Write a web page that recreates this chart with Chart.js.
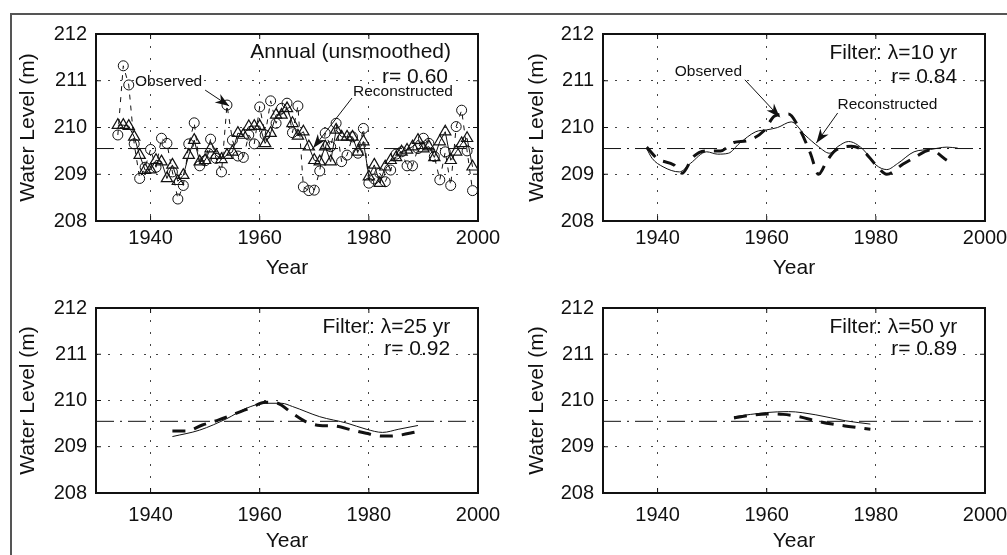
<!DOCTYPE html>
<html>
<head>
<meta charset="utf-8">
<script src="https://cdn.jsdelivr.net/npm/chart.js@4.4.0/dist/chart.umd.min.js"></script>
<style>
  html, body { margin: 0; padding: 0; background: #fff; overflow: hidden; }
  #page { position: relative; width: 1007px; height: 555px; overflow: hidden; }
  #frame { position: absolute; left: 10px; top: 13px; width: 1200px; height: 800px;
           border: 2px solid #555; box-sizing: border-box; }
  .panel { position: absolute; }
</style>
</head>
<body>
<div id="page">
  <div id="frame"></div>
  <canvas id="annual" class="panel" width="500" height="282" style="left:0;top:0"></canvas>
  <canvas id="f10" class="panel" width="507" height="282" style="left:500px;top:0"></canvas>
  <canvas id="f25" class="panel" width="500" height="280" style="left:0;top:275px"></canvas>
  <canvas id="f50" class="panel" width="507" height="280" style="left:500px;top:275px"></canvas>
</div>
<script>
const fontFamily = '"Liberation Sans", Arial, sans-serif';
Chart.defaults.font.family = fontFamily;
Chart.defaults.color = '#111';

// axis ticks
const yearTicks = [1940, 1960, 1980, 2000];
const levelTicks = [208, 209, 210, 211, 212];
const meanLevel = 209.55;

// annual (unsmoothed) series
const annualYears = [1934, 1935, 1936, 1937, 1938, 1939,
  1940, 1941, 1942, 1943, 1944, 1945, 1946, 1947, 1948, 1949,
  1950, 1951, 1952, 1953, 1954, 1955, 1956, 1957, 1958, 1959,
  1960, 1961, 1962, 1963, 1964, 1965, 1966, 1967, 1968, 1969,
  1970, 1971, 1972, 1973, 1974, 1975, 1976, 1977, 1978, 1979,
  1980, 1981, 1982, 1983, 1984, 1985, 1986, 1987, 1988, 1989,
  1990, 1991, 1992, 1993, 1994, 1995, 1996, 1997, 1998, 1999];
const annualObserved = [209.84, 211.32, 210.91, 209.65, 208.91, 209.15,
  209.53, 209.15, 209.77, 209.66, 209.05, 208.47, 208.76, 209.65, 210.10, 209.18,
  209.29, 209.75, 209.34, 209.05, 210.48, 209.73, 209.39, 209.36, 209.84, 209.65,
  210.44, 209.84, 210.57, 210.09, 210.41, 210.52, 209.89, 210.46, 208.73, 208.65,
  208.66, 209.07, 209.88, 209.59, 210.09, 209.27, 209.41, 209.80, 209.45, 209.98,
  208.81, 208.90, 209.02, 208.84, 209.09, 209.43, 209.48, 209.18, 209.18, 209.55,
  209.77, 209.66, 209.38, 208.88, 209.48, 208.76, 210.02, 210.37, 209.50, 208.65];
const annualRecon = [210.05, 210.05, 210.03, 209.80, 209.41, 209.09,
  209.10, 209.30, 209.27, 208.91, 209.20, 208.85, 208.98, 209.41, 209.73, 209.27,
  209.30, 209.55, 209.41, 209.32, 209.41, 209.48, 209.88, 209.84, 210.02, 210.03,
  210.03, 209.66, 209.88, 210.27, 210.27, 210.41, 210.09, 209.82, 209.91, 209.59,
  209.30, 209.27, 209.59, 209.27, 209.95, 209.80, 209.80, 209.80, 209.48, 209.70,
  208.95, 209.20, 208.81, 209.16, 209.30, 209.36, 209.48, 209.52, 209.59, 209.73,
  209.55, 209.59, 209.36, 209.70, 209.91, 209.30, 209.48, 209.66, 209.77, 209.16];

// lambda = 10 yr filter
const f10ReconYears = [1938, 1939, 1941, 1944, 1946, 1949, 1951, 1953, 1955, 1958, 1960, 1962,
  1964.5, 1967, 1969.5, 1971.5, 1973, 1975, 1977.5, 1980, 1982, 1984, 1987, 1990, 1993, 1995];
const f10Recon = [209.55, 209.34, 209.16, 209.05, 209.23, 209.48, 209.43, 209.45, 209.66, 209.91, 209.95, 210.00,
  210.12, 209.84, 209.59, 209.45, 209.59, 209.70, 209.55, 209.20, 209.10, 209.23, 209.48, 209.53, 209.58, 209.56];
const f10ObsYears = [1938, 1940, 1943, 1944.5, 1946.5, 1949, 1951.5, 1954, 1956.5, 1959.5, 1961.5, 1964,
  1966, 1968, 1969.5, 1971, 1972.5, 1975.5, 1977.5, 1980, 1982, 1985, 1987, 1990, 1993];
const f10Obs = [209.58, 209.33, 209.20, 209.02, 209.37, 209.50, 209.50, 209.68, 209.72, 209.93, 210.25, 210.29,
  209.97, 209.45, 209.00, 209.28, 209.50, 209.60, 209.52, 209.20, 209.00, 209.22, 209.35, 209.52, 209.30];

// lambda = 25 yr filter
const f25ReconYears = [1944, 1949, 1954, 1957.5, 1961, 1964, 1966, 1971, 1976, 1979.5, 1982.5, 1985.5, 1989];
const f25Recon = [209.22, 209.36, 209.61, 209.83, 209.94, 209.94, 209.87, 209.65, 209.51, 209.38, 209.31, 209.38, 209.46];
const f25ObsYears = [1944, 1946.5, 1949.5, 1952.5, 1956.5, 1958.5, 1961, 1963, 1966, 1968.5, 1971, 1973.5,
  1977, 1979.5, 1982.5, 1985, 1989];
const f25Obs = [209.34, 209.34, 209.47, 209.58, 209.76, 209.85, 209.96, 209.95, 209.72, 209.54, 209.46, 209.45,
  209.36, 209.29, 209.23, 209.24, 209.33];

// lambda = 50 yr filter
const f50ReconYears = [1954, 1960, 1964, 1969, 1974.5, 1979];
const f50Recon = [209.65, 209.74, 209.76, 209.69, 209.56, 209.49];
const f50ObsYears = [1954, 1957, 1960, 1963, 1966, 1969, 1972, 1975, 1979];
const f50Obs = [209.62, 209.68, 209.71, 209.70, 209.65, 209.56, 209.49, 209.44, 209.38];

const zip = (xs, ys) => xs.map((x, i) => ({ x: x, y: ys[i] }));

function meanLine() {
    return {
        data: [{ x: 1930, y: meanLevel }, { x: 2000, y: meanLevel }],
        borderColor: '#111',
        borderWidth: 1,
        borderDash: [18, 6, 2, 6],
        pointRadius: 0
    };
}

function smoothObs(xs, ys) {
    return {
        data: zip(xs, ys),
        borderColor: '#111',
        borderWidth: 3,
        borderDash: [13, 9],
        pointRadius: 0,
        cubicInterpolationMode: 'monotone'
    };
}

function smoothRecon(xs, ys) {
    return {
        data: zip(xs, ys),
        borderColor: '#111',
        borderWidth: 1,
        pointRadius: 0,
        cubicInterpolationMode: 'monotone'
    };
}

// axes box with inward tick marks
const boxPlugin = {
    id: 'box',
    afterDatasetsDraw(chart) {
        const { ctx, chartArea: a, scales: { x, y } } = chart;
        ctx.save();
        ctx.strokeStyle = '#111';
        ctx.lineWidth = 2;
        ctx.strokeRect(a.left, a.top, a.right - a.left, a.bottom - a.top);
        ctx.lineWidth = 1;
        ctx.beginPath();
        x.ticks.forEach(t => {
            const px = x.getPixelForValue(t.value);
            ctx.moveTo(px, a.top); ctx.lineTo(px, a.top + 5);
            ctx.moveTo(px, a.bottom); ctx.lineTo(px, a.bottom - 5);
        });
        y.ticks.forEach(t => {
            const py = y.getPixelForValue(t.value);
            ctx.moveTo(a.left, py); ctx.lineTo(a.left + 5, py);
            ctx.moveTo(a.right, py); ctx.lineTo(a.right - 5, py);
        });
        ctx.stroke();
        ctx.restore();
    }
};

function notesPlugin(texts, arrows) {
    return {
        id: 'notes',
        afterDraw(chart) {
            const { ctx, scales: { x, y } } = chart;
            ctx.save();
            ctx.fillStyle = '#111';
            ctx.strokeStyle = '#111';
            ctx.textBaseline = 'middle';
            texts.forEach(t => {
                ctx.font = t.size + 'px ' + fontFamily;
                ctx.textAlign = t.align;
                ctx.fillText(t.text, x.getPixelForValue(t.x), y.getPixelForValue(t.y));
            });
            arrows.forEach(ar => {
                const x0 = x.getPixelForValue(ar.from[0]), y0 = y.getPixelForValue(ar.from[1]);
                const x1 = x.getPixelForValue(ar.to[0]), y1 = y.getPixelForValue(ar.to[1]);
                const ang = Math.atan2(y1 - y0, x1 - x0);
                ctx.lineWidth = 1;
                ctx.beginPath();
                ctx.moveTo(x0, y0);
                ctx.lineTo(x1, y1);
                ctx.stroke();
                const L = 14, W = 5;
                ctx.beginPath();
                ctx.moveTo(x1, y1);
                ctx.lineTo(x1 - L * Math.cos(ang) + W * Math.sin(ang), y1 - L * Math.sin(ang) - W * Math.cos(ang));
                ctx.lineTo(x1 - 0.7 * L * Math.cos(ang), y1 - 0.7 * L * Math.sin(ang));
                ctx.lineTo(x1 - L * Math.cos(ang) - W * Math.sin(ang), y1 - L * Math.sin(ang) + W * Math.cos(ang));
                ctx.closePath();
                ctx.fill();
            });
            ctx.restore();
        }
    };
}

function panel(id, p) {
    new Chart(document.getElementById(id), {
        type: 'line',
        data: { datasets: p.datasets },
        options: {
            responsive: false,
            animation: false,
            layout: { padding: { top: p.top, right: 22, left: 0, bottom: 0 } },
            plugins: { legend: { display: false }, tooltip: { enabled: false } },
            scales: {
                x: {
                    type: 'linear', min: 1930, max: 2000,
                    afterBuildTicks: s => { s.ticks = yearTicks.map(v => ({ value: v })); },
                    afterFit: s => { s.height = p.xHeight; s.paddingLeft = 0; s.paddingRight = 0; },
                    grid: { color: '#444', lineWidth: 1, drawTicks: false },
                    border: { display: false, dash: [2, 10] },
                    ticks: { color: '#111', font: { size: 20 }, padding: p.xPad, maxRotation: 0,
                             autoSkip: false, callback: v => String(v) },
                    title: { display: true, text: 'Year', color: '#111',
                             font: { size: 21, lineHeight: 1 }, padding: { top: 0, bottom: p.xTitlePad } }
                },
                y: {
                    type: 'linear', min: 208, max: 212,
                    afterBuildTicks: s => { s.ticks = levelTicks.map(v => ({ value: v })); },
                    afterFit: s => { s.width = p.yWidth; s.paddingTop = 0; s.paddingBottom = 0; },
                    grid: { color: '#444', lineWidth: 1, drawTicks: false },
                    border: { display: false, dash: [2, 10] },
                    ticks: { color: '#111', font: { size: 20 }, padding: 9, callback: v => String(v) },
                    title: { display: true, text: 'Water Level (m)', color: '#111',
                             font: { size: 21, lineHeight: 1 }, padding: { top: p.yTitlePad, bottom: 0 } }
                }
            }
        },
        plugins: [boxPlugin, notesPlugin(p.texts, p.arrows)]
    });
}

panel('annual', {
    top: 34, xHeight: 61, xPad: 5.5, xTitlePad: 3.5, yWidth: 96, yTitlePad: 18,
    datasets: [
        {
            data: zip(annualYears, annualObserved),
            borderColor: '#111', borderWidth: 1, borderDash: [5, 6],
            pointStyle: 'circle', pointRadius: 5, pointBorderWidth: 1,
            pointBorderColor: '#111', pointBackgroundColor: 'rgba(0,0,0,0)'
        },
        {
            data: zip(annualYears, annualRecon),
            borderColor: '#111', borderWidth: 1,
            pointStyle: 'triangle', pointRadius: 6.5, pointBorderWidth: 1.2,
            pointBorderColor: '#111', pointBackgroundColor: 'rgba(0,0,0,0)'
        },
        meanLine()
    ],
    texts: [
        { text: 'Annual (unsmoothed)', x: 1995.05, y: 211.61, align: 'right', size: 21 },
        { text: 'r= 0.60', x: 1994.5, y: 211.08, align: 'right', size: 21 },
        { text: 'Observed', x: 1937.15, y: 210.97, align: 'left', size: 15.5 },
        { text: 'Reconstructed', x: 1977.1, y: 210.76, align: 'left', size: 15.5 }
    ],
    arrows: [
        { from: [1950.0, 210.8], to: [1954.4, 210.46] },
        { from: [1976.9, 210.63], to: [1969.8, 209.56] }
    ]
});

panel('f10', {
    top: 34, xHeight: 61, xPad: 5.5, xTitlePad: 3.5, yWidth: 103, yTitlePad: 26.5,
    datasets: [smoothObs(f10ObsYears, f10Obs), smoothRecon(f10ReconYears, f10Recon), meanLine()],
    texts: [
        { text: 'Filter: \u03bb=10 yr', x: 1994.9, y: 211.59, align: 'right', size: 21 },
        { text: 'r= 0.84', x: 1994.9, y: 211.08, align: 'right', size: 21 },
        { text: 'Observed', x: 1943.16, y: 211.19, align: 'left', size: 15.5 },
        { text: 'Reconstructed', x: 1972.96, y: 210.48, align: 'left', size: 15.5 }
    ],
    arrows: [
        { from: [1956.0, 211.02], to: [1962.4, 210.22] },
        { from: [1973.0, 210.31], to: [1969.1, 209.67] }
    ]
});

panel('f25', {
    top: 33, xHeight: 62, xPad: 10, xTitlePad: 2.8, yWidth: 96, yTitlePad: 18,
    datasets: [smoothObs(f25ObsYears, f25Obs), smoothRecon(f25ReconYears, f25Recon), meanLine()],
    texts: [
        { text: 'Filter: \u03bb=25 yr', x: 1994.9, y: 211.59, align: 'right', size: 21 },
        { text: 'r= 0.92', x: 1994.9, y: 211.11, align: 'right', size: 21 }
    ],
    arrows: []
});

panel('f50', {
    top: 33, xHeight: 62, xPad: 10, xTitlePad: 2.8, yWidth: 103, yTitlePad: 26.5,
    datasets: [smoothObs(f50ObsYears, f50Obs), smoothRecon(f50ReconYears, f50Recon), meanLine()],
    texts: [
        { text: 'Filter: \u03bb=50 yr', x: 1994.9, y: 211.59, align: 'right', size: 21 },
        { text: 'r= 0.89', x: 1994.9, y: 211.11, align: 'right', size: 21 }
    ],
    arrows: []
});
</script>
</body>
</html>
